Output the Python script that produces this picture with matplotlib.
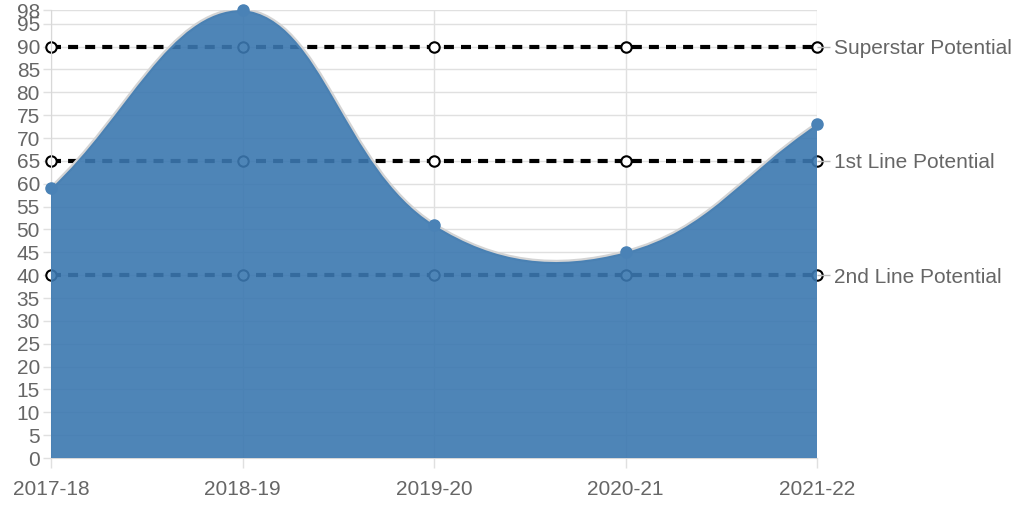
import numpy as np
import matplotlib
matplotlib.use("Agg")
import matplotlib.pyplot as plt
from matplotlib.path import Path
from matplotlib.patches import PathPatch

seasons = ["2017-18", "2018-19", "2019-20", "2020-21", "2021-22"]
ratings = [59, 98, 51, 45, 73]
potential_labels = ["Superstar Potential", "1st Line Potential", "2nd Line Potential"]
potential_values = [90, 65, 40]

plt.rcParams["font.family"] = ["Liberation Sans", "DejaVu Sans"]
text_grey = "#666666"
grid_grey = "#e0e0e0"
area_color = "#3b78b0"

fig = plt.figure(figsize=(10.24, 5.12), dpi=100)
ax = fig.add_axes([51 / 1024, 54 / 512, 766 / 1024, 448 / 512])

x = np.arange(len(seasons))
y_top = max(ratings)
ax.set_xlim(0, len(seasons) - 1)
ax.set_ylim(0, y_top)

# reference lines (drawn below the area)
for val in potential_values:
    ax.plot(x, [val] * len(x), color="black", lw=3, ls=(0, (2.4, 1.7)),
            marker="o", ms=7.5, mfc="white", mec="black", mew=1.5,
            zorder=2, clip_on=False)

# smooth curve, Chart.js style (tension 0.4, computed in pixel space)
pts = ax.transData.transform(np.column_stack([x, ratings]))
tension = 0.4
n = len(pts)
cp_prev, cp_next = [], []
for i in range(n):
    prev = pts[i - 1] if i > 0 else pts[i]
    nxt = pts[i + 1] if i < n - 1 else pts[i]
    cur = pts[i]
    d01 = np.hypot(*(cur - prev))
    d12 = np.hypot(*(nxt - cur))
    tot = d01 + d12
    s01 = d01 / tot if tot else 0
    s12 = d12 / tot if tot else 0
    cp_prev.append(cur - tension * s01 * (nxt - prev))
    cp_next.append(cur + tension * s12 * (nxt - prev))
bottom_px = ax.transData.transform((0, 0))[1]
top_px = ax.transData.transform((0, y_top))[1]
inv = ax.transData.inverted()

def to_data(p):
    p = np.array([p[0], min(max(p[1], bottom_px), top_px)])
    return inv.transform(p)

verts = [(x[0], ratings[0])]
codes = [Path.MOVETO]
for i in range(n - 1):
    verts += [to_data(cp_next[i]), to_data(cp_prev[i + 1]), (x[i + 1], ratings[i + 1])]
    codes += [Path.CURVE4] * 3
line_path = Path(verts, codes)
ax.add_patch(PathPatch(line_path, fill=False, ec="#d4d4d4", lw=3.2, zorder=3))

area_verts = verts + [(x[-1], 0), (x[0], 0), (x[0], ratings[0])]
area_codes = codes + [Path.LINETO, Path.LINETO, Path.CLOSEPOLY]
ax.add_patch(PathPatch(Path(area_verts, area_codes), fc=area_color, ec="none",
                       alpha=0.9, zorder=4))
ax.plot(x, ratings, ls="none", marker="o", ms=8, color="#4a82b6",
        zorder=5, clip_on=False)

# axes styling
ax.set_yticks(list(range(0, 96, 5)) + [y_top])
ax.set_xticks(x)
ax.set_xticklabels(seasons)
ax.grid(True, color=grid_grey, lw=1)
ax.set_axisbelow(True)
ax.tick_params(axis="both", colors=grid_grey, labelcolor=text_grey,
               labelsize=15, width=1)
ax.tick_params(axis="x", length=7, pad=9)
ax.tick_params(axis="y", length=6, pad=2)
for side in ["top", "right"]:
    ax.spines[side].set_visible(False)
for side in ["left", "bottom"]:
    ax.spines[side].set_color("#d8d8d8")

right = ax.twinx()
right.set_ylim(ax.get_ylim())
right.set_yticks(potential_values)
right.set_yticklabels(potential_labels)
right.tick_params(axis="y", colors="#bbbbbb", labelcolor=text_grey,
                  labelsize=15, length=9, width=1, pad=3)
for s in right.spines.values():
    s.set_visible(False)

fig.savefig("out.png", dpi=100)
